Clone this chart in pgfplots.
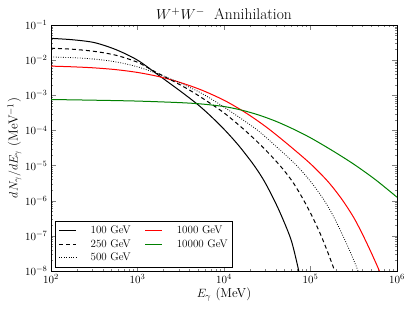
\documentclass[border=0pt]{standalone}
\usepackage{pgfplots}
\pgfplotsset{compat=1.18}
\definecolor{mplgreen}{RGB}{0,128,0}
\definecolor{mplred}{RGB}{255,0,0}
\begin{document}
\begin{tikzpicture}
\begin{axis}[
  xmode=log, ymode=log,
  scale only axis, width=346pt, height=246pt,
  xmin=1e2, xmax=1e6, ymin=1e-8, ymax=1e-1,
  xtick={1e2,1e3,1e4,1e5,1e6},
  ytick={1e-8,1e-7,1e-6,1e-5,1e-4,1e-3,1e-2,1e-1},
  tick label style={font=\fontsize{11}{13}\selectfont},
  title={$W^+W^-$\ \ Annihilation},
  title style={font=\fontsize{15.5}{18}\selectfont, yshift=-4pt},
  xlabel={$E_\gamma$ (MeV)},
  ylabel={$dN_\gamma/dE_\gamma$ (MeV$^{-1}$)},
  label style={font=\fontsize{13}{15}\selectfont},
  xlabel style={yshift=3pt},
  ylabel style={yshift=-3pt},
  tick align=inside, major tick length=5pt, minor tick length=2.5pt,
  axis line style={line width=0.8pt},
  legend columns=2,
  legend cell align=left,
  legend style={at={(0.012,0.015)}, anchor=south west, draw=black, line width=0.8pt,
    font=\fontsize{11}{13}\selectfont, column sep=12pt, row sep=0pt, inner sep=3pt},
]
\addlegendimage{black, line width=1pt}
\addlegendentry{100 GeV}
\addlegendimage{mplred, line width=1pt}
\addlegendentry{1000 GeV}
\addlegendimage{black, line width=1pt, dash pattern=on 4pt off 3pt}
\addlegendentry{250 GeV}
\addlegendimage{mplgreen, line width=1pt}
\addlegendentry{10000 GeV}
\addlegendimage{black, line width=0.8pt, dash pattern=on 0.8pt off 1.6pt}
\addlegendentry{500 GeV}
\addplot[black, line width=1pt, smooth, tension=0.5, forget plot] coordinates {
(1e2,4.169e-2) (1.778e2,3.802e-2) (3.162e2,3.162e-2) (5.623e2,1.995e-2)
(1e3,1.0e-2) (1.778e3,3.631e-3) (3.162e3,1.288e-3) (5.012e3,5.370e-4)
(7.079e3,2.512e-4) (1.023e4,1.023e-4) (1.479e4,3.715e-5) (2.188e4,1.072e-5)
(2.884e4,3.802e-6) (3.802e4,1.047e-6) (4.786e4,3.020e-7) (6.026e4,7.079e-8)
(7.244e4,1.122e-8) (7.943e4,3.548e-9)
};
\addplot[mplred, line width=1pt, smooth, tension=0.5, forget plot] coordinates {
(1e2,6.761e-3) (1.778e2,6.457e-3) (3.162e2,6.026e-3) (5.623e2,5.370e-3)
(1e3,4.467e-3) (1.778e3,3.388e-3) (3.162e3,2.291e-3) (5.623e3,1.380e-3)
(1e4,7.244e-4) (1.585e4,3.802e-4) (2.239e4,2.188e-4) (3.342e4,1.072e-4)
(5.623e4,3.802e-5) (1e5,1.122e-5) (1.585e5,3.548e-6) (2.291e5,1.122e-6)
(3.162e5,3.311e-7) (4.074e5,1e-7) (5.129e5,3.020e-8) (6.310e5,9.550e-9) (6.918e5,5.012e-9)
};
\addplot[black, line width=1pt, dash pattern=on 4pt off 3pt, smooth, tension=0.5, forget plot] coordinates {
(1e2,2.188e-2) (1.778e2,2.042e-2) (3.162e2,1.778e-2) (5.623e2,1.380e-2)
(1e3,8.710e-3) (1.514e3,5.012e-3) (2.512e3,2.630e-3) (3.981e3,1.413e-3)
(6.026e3,7.413e-4) (1e4,3.162e-4) (1.750e4,1.0e-4) (2.818e4,3.311e-5)
(4.365e4,1.047e-5) (6.166e4,3.548e-6) (8.318e4,1.047e-6) (1.072e5,3.162e-7)
(1.318e5,1.047e-7) (1.585e5,3.388e-8) (1.905e5,1e-8) (2.089e5,5.012e-9)
};
\addplot[mplgreen, line width=1pt, smooth, tension=0.5, forget plot] coordinates {
(1e2,7.586e-4) (3.162e2,7.244e-4) (1e3,6.839e-4) (3.162e3,6.166e-4)
(5.623e3,5.623e-4) (1e4,4.786e-4) (1.585e4,3.802e-4) (2.512e4,2.754e-4)
(3.981e4,1.820e-4) (6.310e4,1.096e-4) (1e5,6.166e-5) (1.778e5,2.692e-5)
(3.162e5,1.096e-5) (5.623e5,3.981e-6) (1e6,1.259e-6)
};
\addplot[black, line width=0.8pt, dash pattern=on 0.8pt off 1.6pt, smooth, tension=0.5, forget plot] coordinates {
(1e2,1.230e-2) (1.778e2,1.175e-2) (3.162e2,1.072e-2) (5.623e2,8.913e-3)
(1e3,6.457e-3) (1.778e3,3.981e-3) (3.162e3,2.188e-3) (5.012e3,1.288e-3)
(7.413e3,7.413e-4) (1.259e4,3.162e-4) (2.427e4,1.023e-4) (3.981e4,3.548e-5)
(6.792e4,1.047e-5) (1e5,3.548e-6) (1.432e5,1.047e-6) (1.820e5,3.802e-7)
(2.291e5,1.202e-7) (2.884e5,3.467e-8) (3.548e5,1e-8) (3.981e5,4.467e-9)
};
\end{axis}
\pgfresetboundingbox
\path[use as bounding box] ([shift={(-51pt,-41pt)}]current axis.south west) rectangle ([shift={(18pt,25pt)}]current axis.north east);
\end{tikzpicture}
\end{document}
